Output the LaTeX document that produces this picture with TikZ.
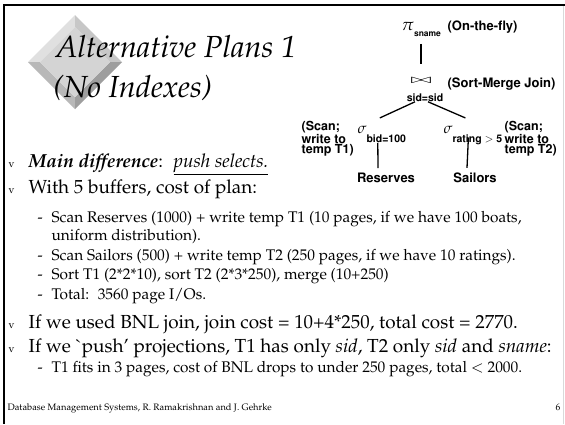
\documentclass[tikz,border=0pt]{standalone}
\usepackage[T1]{fontenc}
\usepackage{mathpazo}
\usepackage{helvet}
\usetikzlibrary{positioning}
\newcommand{\setfs}[1]{\fontsize{#1}{#1}\selectfont}

\begin{document}
\begin{tikzpicture}[x=1pt,y=-1pt,inner sep=0pt,line width=1.3pt,
	txt/.style={anchor=base west},
	title/.style={txt,font=\itshape\setfs{30.5}},
	big/.style={txt,font=\setfs{18.9}},
	small/.style={txt,font=\setfs{15.4}},
	bul/.style={txt,font=\setfs{10.5}},
	tree/.style={font=\sffamily\bfseries\setfs{13}},
	cond/.style={font=\sffamily\bfseries\setfs{10.5}},
	note/.style={align=left,font=\sffamily\bfseries\fontsize{12.5}{9.6}\selectfont}]
	\tikzstyle{rel}=[tree,inner sep=4pt]
	\useasboundingbox (0,0) rectangle (565,424);
	\fill[white] (0,0) rectangle (565,424);
	\draw[line width=2.5pt] (4,5) -- (565,5);
	\draw[line width=2.5pt] (4,4) -- (4,424);
	\draw[black!15,line width=0.8pt] (563,6) -- (563,424);
	% diamond
	\fill[black!12] (75,15) -- (28,62) -- (40,62) -- (75,27) -- cycle;
	\fill[black!22] (75,15) -- (122,62) -- (110,62) -- (75,27) -- cycle;
	\fill[black!28] (28,62) -- (75,109) -- (75,97) -- (40,62) -- cycle;
	\fill[black!38] (122,62) -- (75,109) -- (75,97) -- (110,62) -- cycle;
	\fill[black!17] (75,27) -- (110,62) -- (75,97) -- (40,62) -- cycle;
	\node[title] (t1) at (55,57) {Alternative Plans 1};
	\node[title] (t2) at (53,97) {(No Indexes)};
	% plan tree
	\node[tree,txt] (proj) at (401,30) {{\setfs{17}$\pi$}\raisebox{-6pt}{\setfs{8.5}sname}};
	\node[tree,txt] (fly) at (447,30) {(On-the-fly)};
	\node (join) at (421,81) {\scalebox{1.6}[0.8]{\setfs{15}$\bowtie$}};
	\node[tree,txt] (smj) at (447,87) {(Sort-Merge Join)};
	\node[cond,anchor=base] (cond) at (425,101) {sid=sid};
	\node[txt] (selL) at (357,133) {{\setfs{15}$\sigma$}\raisebox{-9pt}{\sffamily\bfseries\setfs{10.5}bid=100}};
	\node[txt] (selR) at (443,133) {{\setfs{15}$\sigma$}\raisebox{-9pt}{\sffamily\bfseries\setfs{10.5}rating $>$ 5}};
	\node[note,anchor=north west] (scanL) at (301,121) {(Scan;\\write to\\temp T1)};
	\node[note,anchor=north west] (scanR) at (504,121) {(Scan;\\write to\\temp T2)};
	\node[rel,anchor=base] (res) at (386,182) {Reserves};
	\node[rel,anchor=base] (sail) at (475,182) {Sailors};
	\draw[shorten <=7pt,shorten >=13pt] (proj.south -| join) -- (join);
	\draw ([xshift=-10pt]cond.south) -- ([xshift=-2pt,yshift=7pt]selL.north);
	\draw ([xshift=3pt]cond.south) -- ([xshift=-7.5pt,yshift=7pt]selR.north);
	\draw ([xshift=-4pt]selL.south) -- ([xshift=-8pt]res.north);
	\draw ([xshift=-4.5pt,yshift=7.5pt]selR.south) -- ([xshift=-8pt]sail.north);
	% bullets
	\node[bul] (b1) at (8,167) {v};
	\node[big] (l1) at (28,167) {\textbf{\textit{Main difference}}: \ \underline{\textit{push selects.}}};
	\node[bul] (b2) at (8,193) {v};
	\node[big] (l2) at (28,193) {With 5 buffers, cost of plan:};
	\node[small] (d1) at (37,222) {-};
	\node[small] (s1) at (51,222) {Scan Reserves (1000) + write temp T1 (10 pages, if we have 100 boats,};
	\node[small] (s1b) at (51,240) {uniform distribution).};
	\node[small] (d2) at (37,260) {-};
	\node[small] (s2) at (51,260) {Scan Sailors (500) + write temp T2 (250 pages, if we have 10 ratings).};
	\node[small] (d3) at (37,279) {-};
	\node[small] (s3) at (51,279) {Sort T1 (2*2*10), sort T2 (2*3*250), merge (10+250)};
	\node[small] (d4) at (37,299) {-};
	\node[small] (s4) at (51,299) {Total: \ 3560 page I/Os.};
	\node[bul] (b3) at (8,328) {v};
	\node[big] (l3) at (28,328) {If we used BNL join, join cost = 10+4*250, total cost = 2770.};
	\node[bul] (b4) at (8,352) {v};
	\node[big] (l4) at (28,352) {If we \`{}push' projections, T1 has only \textit{sid}, T2 only \textit{sid} and \textit{sname}:};
	\node[small] (d5) at (37,372) {-};
	\node[small] (s5) at (51,372) {T1 fits in 3 pages, cost of BNL drops to under 250 pages, total $<$ 2000.};
	% footer
	\node[txt,font=\setfs{9.3}] (foot) at (7,410) {Database Management Systems, R. Ramakrishnan and J. Gehrke};
	\node[txt,font=\setfs{9.5}] (page) at (555,410) {6};
\end{tikzpicture}
\end{document}
